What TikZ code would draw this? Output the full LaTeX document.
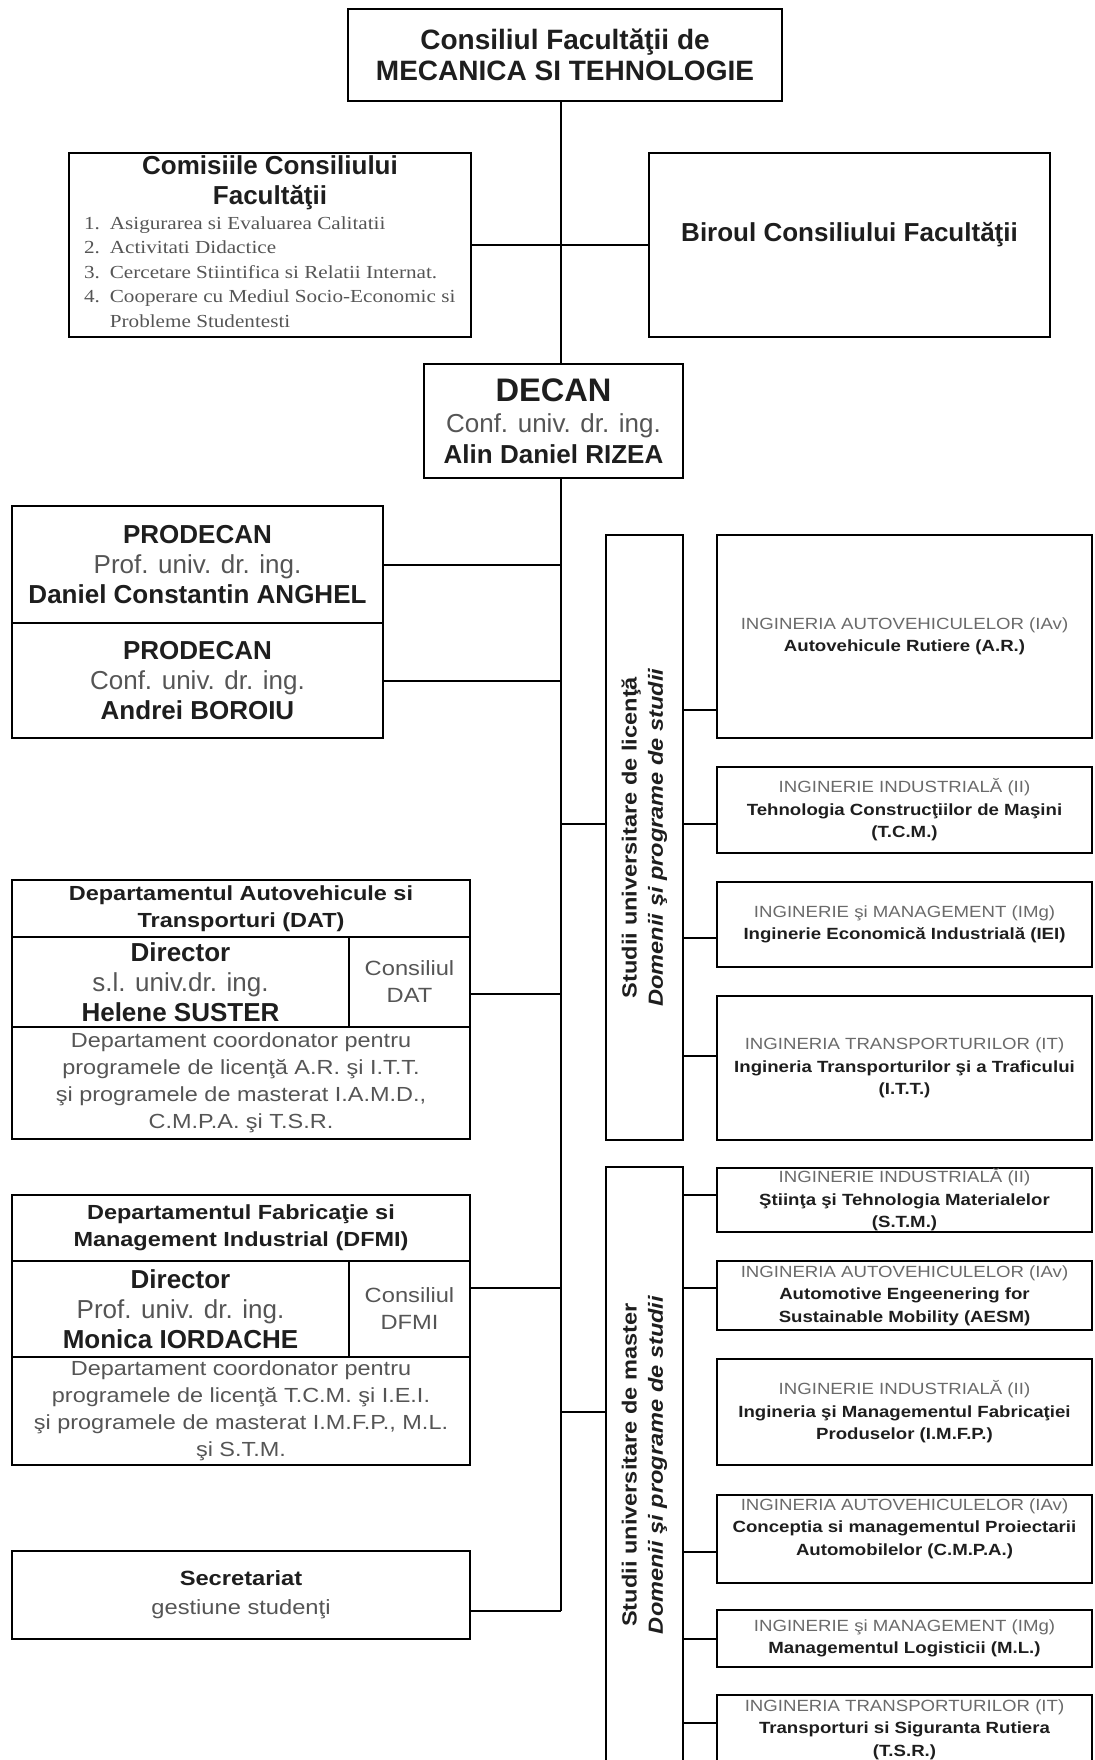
\documentclass[tikz,border=0pt]{standalone}
\usepackage{fontspec}
\usepackage{graphicx}
\setmainfont{Liberation Sans}
\newfontfamily\listfont[FakeStretch=1.15]{Liberation Serif}
\newfontfamily\widefont[FakeStretch=1.15]{Liberation Sans}
\newcommand\fs[2]{\fontsize{#1}{#2}\selectfont}
\definecolor{txtdark}{HTML}{1E1E1E}
\definecolor{txtgray}{HTML}{555555}
\definecolor{capgray}{HTML}{6A6A6A}
\tikzset{
    box/.style 2 args={draw=black, line width=1.3pt, minimum width=#1*0.5pt,
        minimum height=#2*0.5pt, inner sep=0pt, align=center, text=txtdark},
    prog/.style={box={375}{#1}, font=\widefont\fs{8.1}{11.25}},
    side/.style={box={77}{#1}},
    conn/.style={line width=1pt}
}

\begin{document}
\begin{tikzpicture}[x=0.5pt, y=-0.5pt]
    \useasboundingbox (0,0) rectangle (1094,1760);
    \clip (0,0) rectangle (1094,1760);
    \coordinate (sp) at (561,0);

    % council, commissions, dean
    \node[box={434}{92}, font=\fs{14}{15.5}\bfseries] (top) at (565,55)
        {Consiliul Facultăţii de\\MECANICA SI TEHNOLOGIE};
    \node[box={402}{184}] (com) at (270,245) {\parbox{186pt}{\centering
        \fs{13}{15}\bfseries Comisiile Consiliului\\Facultăţii\par
        \raggedright\listfont\fs{9.2}{12.25}\mdseries\color{txtgray}%
        \begin{tabular}{@{}r@{\hspace{5pt}}l@{}}
            1. & Asigurarea si Evaluarea Calitatii\\
            2. & Activitati Didactice\\
            3. & Cercetare Stiintifica si Relatii Internat.\\
            4. & Cooperare cu Mediul Socio-Economic si\\
               & Probleme Studentesti
        \end{tabular}}};
    \node[box={401}{184}, font=\fs{13}{15}\bfseries] (bir) at (849.5,245)
        {Biroul Consiliului Facultăţii\\[-2pt]};
    \node[box={259}{114}, font=\fs{13}{15.5}] (dec) at (553.5,421)
        {{\fs{16.3}{16}\bfseries DECAN}\\{\color{txtgray}Conf. univ. dr. ing.}\\\textbf{Alin Daniel RIZEA}};

    % vice-deans
    \node[box={371}{117}, font=\fs{13}{15}] (pro1) at (197.5,564.5)
        {\textbf{PRODECAN}\\{\color{txtgray}Prof. univ. dr. ing.}\\\textbf{Daniel Constantin ANGHEL}};
    \node[box={371}{115}, font=\fs{13}{15}] (pro2) at (197.5,680.5)
        {\textbf{PRODECAN}\\{\color{txtgray}Conf. univ. dr. ing.}\\\textbf{Andrei BOROIU}};

    % departments
    \node[box={458}{57}, font=\widefont\fs{10.2}{13.5}\bfseries] (dathead) at (241,908.5)
        {Departamentul Autovehicule si\\Transporturi (DAT)};
    \node[box={337}{90}, font=\fs{13}{15}] (datdir) at (180.5,982)
        {\textbf{Director}\\{\color{txtgray}s.l. univ.dr. ing.}\\\textbf{Helene SUSTER}};
    \node[box={121}{90}, font=\widefont\fs{10.3}{13.5}, text=txtgray] (datcons) at (409.5,982)
        {Consiliul\\DAT};
    \node[box={458}{112}, font=\widefont\fs{10.2}{13.5}, text=txtgray] (datdesc) at (241,1083)
        {Departament coordonator pentru\\programele de licenţă A.R. şi I.T.T.\\şi programele de masterat I.A.M.D.,\\C.M.P.A. şi T.S.R.};

    \node[box={458}{66}, font=\widefont\fs{10.2}{13.5}\bfseries] (dfmihead) at (241,1228)
        {Departamentul Fabricaţie si\\Management Industrial (DFMI)};
    \node[box={337}{96}, font=\fs{13}{15}] (dfmidir) at (180.5,1309)
        {\textbf{Director}\\{\color{txtgray}Prof. univ. dr. ing.}\\\textbf{Monica IORDACHE}};
    \node[box={121}{96}, font=\widefont\fs{10.3}{13.5}, text=txtgray] (dfmicons) at (409.5,1309)
        {Consiliul\\DFMI};
    \node[box={458}{108}, font=\widefont\fs{10.2}{13.5}, text=txtgray] (dfmidesc) at (241,1411)
        {Departament coordonator pentru\\programele de licenţă T.C.M. şi I.E.I.\\şi programele de masterat I.M.F.P., M.L.\\şi S.T.M.};

    \node[box={458}{88}, font=\widefont\fs{10.3}{14.5}] (sec) at (241,1595)
        {\textbf{Secretariat}\\{\color{txtgray}gestiune studenţi}};

    % study levels
    \node[side={605}] (lic) at (644.5,837.5) {\rotatebox{90}{\widefont\fs{10.25}{13.2}\bfseries
        \begin{tabular}{@{}c@{}}Studii universitare de licenţă\\\itshape Domenii şi programe de studii\end{tabular}}};
    \node[side={596}] (mas) at (644.5,1465) {\rotatebox{90}{\widefont\fs{10.25}{13.2}\bfseries
        \begin{tabular}{@{}c@{}}Studii universitare de master\\\itshape Domenii şi programe de studii\end{tabular}}};

    % programmes
    \node[prog={203}] (ar) at (904.5,636.5)
        {{\color{capgray}INGINERIA AUTOVEHICULELOR (IAv)}\\\textbf{Autovehicule Rutiere (A.R.)}};
    \node[prog={86}] (tcm) at (904.5,810)
        {{\color{capgray}INGINERIE INDUSTRIALĂ (II)}\\\textbf{Tehnologia Construcţiilor de Maşini}\\\textbf{(T.C.M.)}};
    \node[prog={85}] (iei) at (904.5,924.5)
        {{\color{capgray}INGINERIE şi MANAGEMENT (IMg)}\\\textbf{Inginerie Economică Industrială (IEI)}};
    \node[prog={144}] (itt) at (904.5,1068)
        {{\color{capgray}INGINERIA TRANSPORTURILOR (IT)}\\\textbf{Ingineria Transporturilor şi a Traficului}\\\textbf{(I.T.T.)}};
    \node[prog={64}] (stm) at (904.5,1200)
        {{\color{capgray}INGINERIE INDUSTRIALĂ (II)}\\\textbf{Ştiinţa şi Tehnologia Materialelor}\\\textbf{(S.T.M.)}};
    \node[prog={69}] (aesm) at (904.5,1295.5)
        {{\color{capgray}INGINERIA AUTOVEHICULELOR (IAv)}\\\textbf{Automotive Engeenering for}\\\textbf{Sustainable Mobility (AESM)}};
    \node[prog={106}] (imfp) at (904.5,1412)
        {{\color{capgray}INGINERIE INDUSTRIALĂ (II)}\\\textbf{Ingineria şi Managementul Fabricaţiei}\\\textbf{Produselor (I.M.F.P.)}};
    \node[prog={88}] (cmpa) at (904.5,1539)
        {{\color{capgray}INGINERIA AUTOVEHICULELOR (IAv)}\\\textbf{Conceptia si managementul Proiectarii}\\\textbf{Automobilelor (C.M.P.A.)}\\[1pt]};
    \node[prog={57}] (ml) at (904.5,1638.5)
        {{\color{capgray}INGINERIE şi MANAGEMENT (IMg)}\\\textbf{Managementul Logisticii (M.L.)}};
    \node[prog={69}] (tsr) at (904.5,1729.5)
        {{\color{capgray}INGINERIA TRANSPORTURILOR (IT)}\\\textbf{Transporturi si Siguranta Rutiera}\\\textbf{(T.S.R.)}};

    % connectors
    \draw[conn] (top.south -| sp) -- (dec.north -| sp);
    \draw[conn] (dec.south -| sp) -- ([yshift=-8pt]sec.east -| sp);
    \draw[conn] (com.east) -- (bir.west);
    \foreach \n/\d in {pro1/0, pro2/0, datcons/-6, dfmicons/10.5, sec/-8}
        \draw[conn] ([yshift=\d pt]\n.east) -- ([yshift=\d pt]\n.east -| sp);
    \foreach \n/\d in {lic/6.75, mas/26.5}
        \draw[conn] ([yshift=\d pt]\n.west -| sp) -- ([yshift=\d pt]\n.west);
    \foreach \n/\d in {ar/-36.75, tcm/-7, iei/-6.75, itt/6}
        \draw[conn] ([yshift=\d pt]\n.west -| lic.east) -- ([yshift=\d pt]\n.west);
    \foreach \n/\d in {stm/2.5, aesm/3.75, cmpa/-6.5, ml/0, tsr/3.25}
        \draw[conn] ([yshift=\d pt]\n.west -| mas.east) -- ([yshift=\d pt]\n.west);
\end{tikzpicture}
\end{document}
